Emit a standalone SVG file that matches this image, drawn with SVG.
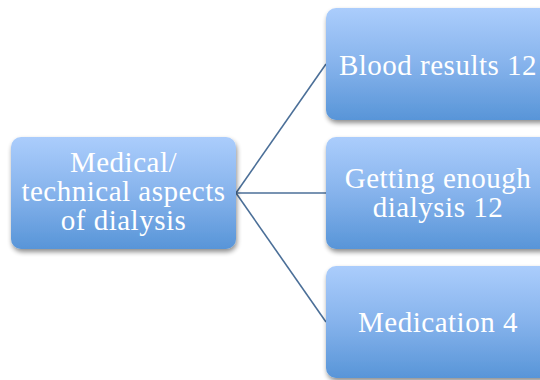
<svg xmlns="http://www.w3.org/2000/svg" width="540" height="380" viewBox="0 0 540 380">
  <defs>
    <linearGradient id="boxFill" x1="0" y1="0" x2="0" y2="1">
      <stop offset="0" stop-color="#abcdfc"/>
      <stop offset="0.5" stop-color="#86b3ec"/>
      <stop offset="1" stop-color="#5895d8"/>
    </linearGradient>
    <filter id="shadow" x="-10%" y="-10%" width="125%" height="135%">
      <feGaussianBlur in="SourceAlpha" stdDeviation="2.5"/>
      <feOffset dx="1" dy="3" result="b"/>
      <feComponentTransfer><feFuncA type="linear" slope="0.45"/></feComponentTransfer>
      <feMerge><feMergeNode/><feMergeNode in="SourceGraphic"/></feMerge>
    </filter>
  </defs>
  <style>
    .box { fill: url(#boxFill); filter: url(#shadow); }
    .label { font-family: "Liberation Serif", "DejaVu Serif", serif; font-size: 29px; letter-spacing: 0.5px; fill: #ffffff; text-anchor: middle; }
    .link { stroke: #4b6f98; stroke-width: 1.6; fill: none; }
  </style>
  <rect width="540" height="380" fill="#ffffff"/>

  <g id="connectors">
    <line class="link" x1="236" y1="193" x2="326" y2="64"/>
    <line class="link" x1="236" y1="193" x2="326" y2="193"/>
    <line class="link" x1="236" y1="193" x2="326" y2="322"/>
  </g>

  <g id="node-medical">
    <rect class="box" x="11" y="137" width="225" height="112" rx="10"/>
    <text class="label" x="123.5" y="172">Medical/</text>
    <text class="label" x="123.5" y="201">technical aspects</text>
    <text class="label" x="123.5" y="230">of dialysis</text>
  </g>

  <g id="node-blood">
    <rect class="box" x="326" y="8" width="225" height="112" rx="10"/>
    <text class="label" x="438" y="75">Blood results 12</text>
  </g>

  <g id="node-enough">
    <rect class="box" x="326" y="137" width="225" height="112" rx="10"/>
    <text class="label" x="438" y="188">Getting enough</text>
    <text class="label" x="438" y="217">dialysis 12</text>
  </g>

  <g id="node-medication">
    <rect class="box" x="326" y="266" width="225" height="112" rx="10"/>
    <text class="label" x="438" y="332">Medication 4</text>
  </g>
</svg>
